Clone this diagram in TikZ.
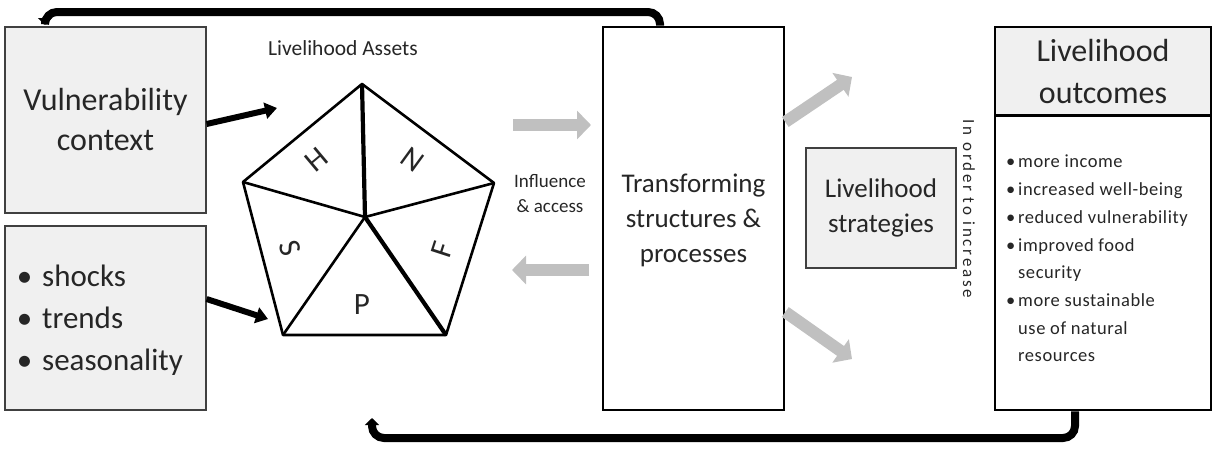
\documentclass[tikz,border=0pt]{standalone}
\usepackage{fontspec}
\setmainfont{Carlito}
\newfontfamily\spaced[LetterSpace=3]{Carlito}
\newfontfamily\wide[LetterSpace=16]{Carlito}
\usetikzlibrary{arrows.meta,calc}
\definecolor{boxgray}{HTML}{F0F0F0}
\definecolor{edgegray}{HTML}{404040}
\definecolor{txt}{HTML}{262626}
\definecolor{arrgray}{HTML}{C0C0C0}
\tikzset{
  graybox/.style={draw=edgegray, line width=1.2pt, fill=boxgray, inner sep=0pt, text=txt},
  whitebox/.style={draw=black, line width=2.6pt, fill=white, inner sep=0pt, text=txt},
  blk/.style={line width=6pt, -{Triangle[length=12pt,width=16pt]}},
  garr/.style={draw=arrgray, line width=12pt, -{Triangle[length=14pt,width=28pt]}},
  fb/.style={line width=8pt, rounded corners=12pt, -{Triangle[length=7pt,width=14pt]}},
  penta/.style={line width=2.6pt, line join=round},
  letter/.style={font=\fontsize{31}{33}\selectfont, text=txt, inner sep=0pt},
}
\begin{document}
\begin{tikzpicture}[x=1pt,y=-1pt]
\useasboundingbox (0,0) rectangle (1212,450);
% boxes
\node[graybox, minimum width=201, minimum height=186, align=center,
      font=\fontsize{32}{40}\selectfont] (vul) at (105.5,120) {Vulnerability\\context};
\node[graybox, minimum width=201, minimum height=184] (shk) at (105.5,318) {};
\node[anchor=west, align=left, text=txt, font=\fontsize{31}{42}\selectfont, inner sep=0pt]
  (shktxt) at (42,320) {\llap{\textbullet\hspace{10pt}}shocks\\\llap{\textbullet\hspace{10pt}}trends\\\llap{\textbullet\hspace{10pt}}seasonality};
\node[text=txt, font=\fontsize{21.5}{24}\selectfont] (atitle) at (343,48) {Livelihood Assets};
\node[whitebox, minimum width=181, minimum height=383] (trans) at (693.5,218.5) {};
\node[text=txt, align=center, font=\fontsize{27}{35}\selectfont] (transtxt) at (693.5,220) {Transforming\\structures \&\\processes};
\node[graybox, minimum width=150, minimum height=120, align=center,
      font=\fontsize{27}{35}\selectfont] (strat) at (881,208) {Livelihood\\strategies};
\node[text=txt, rotate=-90, font=\wide\fontsize{17}{18}\selectfont] (incr) at (969,209) {In order to increase};
\node[text=txt, align=center, font=\fontsize{19}{25}\selectfont] (infl) at (550,194) {Influence\\\&\ access};
% outcomes
\node[whitebox, minimum width=216, minimum height=383] (out) at (1103,218.5) {};
\node[graybox, draw=none, minimum width=213.4, minimum height=87, align=center,
      font=\fontsize{32}{42}\selectfont] (outhead) at (1103,71.5) {Livelihood\\outcomes};
\draw[line width=2.4pt, draw=black] (outhead.south west) -- (outhead.south east);
\node[anchor=north west, align=left, text=txt, inner sep=0pt,
      font=\spaced\fontsize{18.5}{27.7}\selectfont] (outtxt) at (1018,155)
  {\llap{\textbullet\hspace{3pt}}more income\\
   \llap{\textbullet\hspace{3pt}}increased well-being\\
   \llap{\textbullet\hspace{3pt}}reduced vulnerability\\
   \llap{\textbullet\hspace{3pt}}improved food\\
   security\\
   \llap{\textbullet\hspace{3pt}}more sustainable\\
   use of natural\\
   resources};
% pentagon
\coordinate (pt) at (362,84);
\coordinate (pr) at (494,183);
\coordinate (pbr) at (446,335);
\coordinate (pbl) at (283,335);
\coordinate (pl) at (243,182);
\coordinate (pc) at (365,217);
\draw[penta] (pt) -- (pr) -- (pbr) -- (pbl) -- (pl) -- cycle;
\draw[penta] (pl) -- (pc) -- (pr);
\draw[penta] (pbl) -- (pc);
\draw[line width=4.2pt] (pt) -- (pc) -- (pbr);
\node[letter, rotate=40] (lH) at (317,160) {H};
\node[letter, rotate=144] (lN) at (413,160) {N};
\node[letter, rotate=-72] (lS) at (290,248) {S};
\node[letter, rotate=72] (lF) at (442,250) {F};
\node[letter] (lP) at (362,305) {P};
% black arrows
\coordinate (a1) at (277,108);
\coordinate (a2) at (268,319);
\draw[blk] ([yshift=-4pt]vul.east) -- (a1);
\draw[blk] (shk.east |- 0,299) -- (a2);
% gray arrows
\coordinate (g1s) at (513,125); \coordinate (g1e) at (591,125);
\coordinate (g2s) at (589,270); \coordinate (g2e) at (512,270);
\draw[garr] (g1s) -- (g1e);
\draw[garr] (g2s) -- (g2e);
\coordinate (g3e) at (852,77); \coordinate (g4e) at (852,359);
\draw[garr] (trans.east |- 0,122) -- (g3e);
\draw[garr] (trans.east |- 0,312) -- (g4e);
% feedback arrows
\coordinate (fbtop) at (45,25);
\coordinate (fbbot) at (372,418);
\draw[fb] (trans.north -| 660,0) -- (660,12) -- (45,12) -- (fbtop);
\draw[fb] (out.south -| 1075,0) -- (1075,438) -- (372,438) -- (fbbot);
\end{tikzpicture}
\end{document}
